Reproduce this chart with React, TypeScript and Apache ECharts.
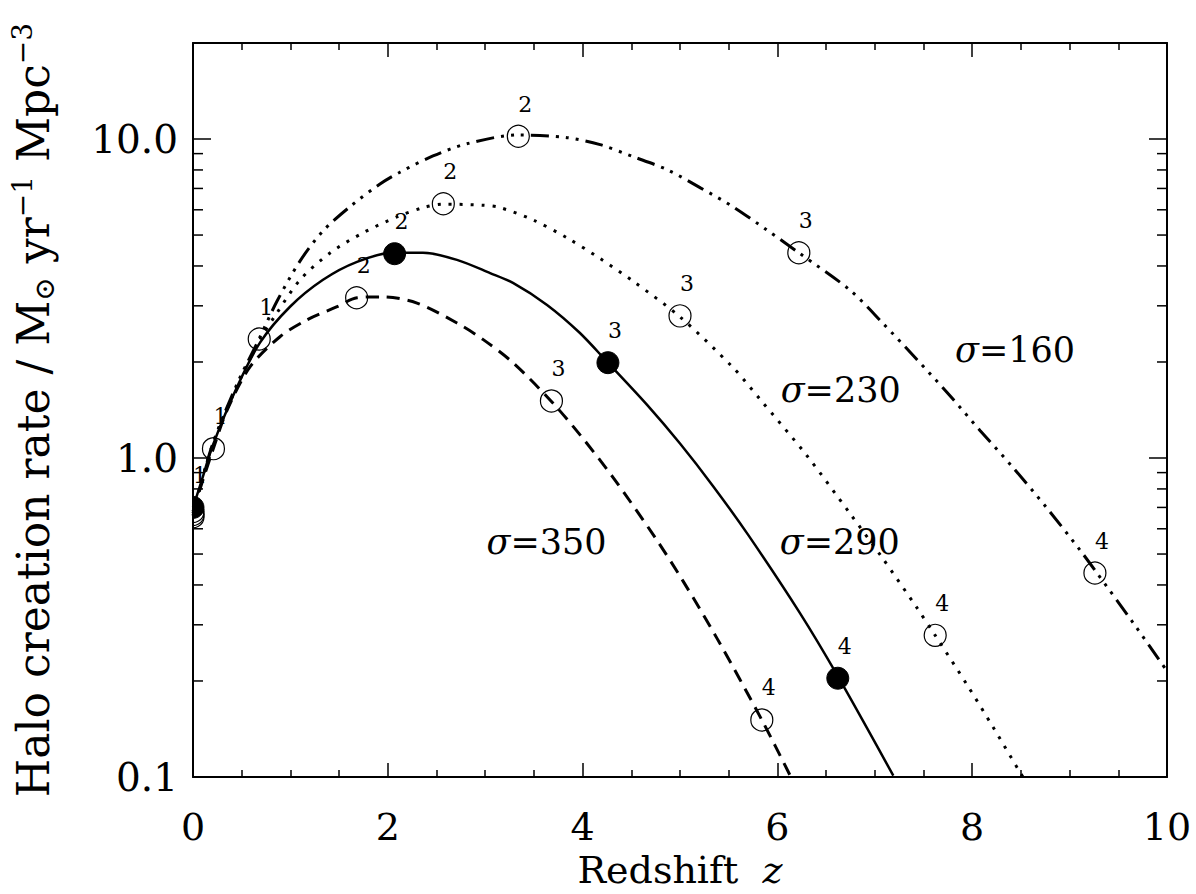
import React, { useEffect, useRef } from "react";
import * as echarts from "echarts";

const FONT = '"DejaVu Serif", serif';

// x axis (redshift) and y axis (log) tick data
const xMin = 0;
const xMax = 10;
const xInterval = 2;
const yMin = 0.1;
const yMax = 20;
const yMinorTicks = [0.2, 0.3, 0.4, 0.5, 0.6, 0.7, 0.8, 0.9, 2, 3, 4, 5, 6, 7, 8, 9];

// sigma = 290 (solid)
const solidZ = [0, 0.1, 0.195, 0.452, 0.688, 0.996, 1.335, 1.684, 2.053, 2.361, 2.71, 3.05, 3.285, 3.635, 3.97, 4.26, 4.66, 5.0, 5.34, 5.7, 6.23, 6.62, 7.19];
const solidV = [0.70, 0.871, 1.08, 1.67, 2.30, 2.98, 3.62, 4.12, 4.40, 4.40, 4.18, 3.80, 3.54, 3.02, 2.47, 1.99, 1.47, 1.11, 0.816, 0.574, 0.327, 0.207, 0.101];

// sigma = 350 (dashed)
const dashZ = [0, 0.1, 0.195, 0.349, 0.585, 0.893, 1.17, 1.48, 1.684, 1.95, 2.30, 2.71, 2.98, 3.285, 3.675, 3.97, 4.31, 4.74, 5.03, 5.38, 5.84, 6.16];
const dashV = [0.68, 0.85, 1.04, 1.41, 1.93, 2.40, 2.71, 2.98, 3.18, 3.20, 3.06, 2.65, 2.35, 1.99, 1.51, 1.186, 0.871, 0.566, 0.412, 0.272, 0.151, 0.097];

// sigma = 230 (dotted)
const dotZ = [0, 0.195, 0.483, 0.688, 0.862, 1.10, 1.41, 1.745, 2.094, 2.361, 2.567, 2.98, 3.15, 3.49, 3.84, 4.18, 4.52, 5.00, 5.545, 5.82, 6.30, 6.745, 7.08, 7.43, 7.62, 7.95, 8.21, 8.49, 8.54];
const dotV = [0.67, 1.09, 1.76, 2.35, 2.85, 3.62, 4.40, 5.08, 5.70, 6.09, 6.25, 6.20, 6.10, 5.58, 4.90, 4.22, 3.58, 2.77, 1.92, 1.53, 1.02, 0.67, 0.485, 0.340, 0.278, 0.194, 0.144, 0.1035, 0.098];

// sigma = 160 (dash-dot-dot-dot)
const ddZ = [0, 0.195, 0.45, 0.678, 0.862, 1.10, 1.335, 1.61, 1.92, 2.125, 2.464, 2.81, 3.34, 3.84, 4.18, 4.52, 4.87, 5.21, 5.545, 5.89, 6.22, 6.745, 7.08, 7.43, 7.77, 8.08, 8.42, 8.77, 9.11, 9.26, 9.65, 10.0];
const ddV = [0.66, 1.09, 1.70, 2.36, 3.10, 4.15, 5.15, 6.13, 7.23, 7.87, 8.85, 9.66, 10.3, 10.1, 9.60, 8.80, 8.01, 7.03, 6.13, 5.19, 4.40, 3.36, 2.65, 2.04, 1.57, 1.22, 0.933, 0.695, 0.513, 0.445, 0.305, 0.215];

// markers on each curve
const ddMarkZ = [0, 0.68, 3.34, 6.22, 9.26];
const ddMarkV = [0.655, 2.36, 10.2, 4.40, 0.436];
const ddMarkL = ["", "1", "2", "3", "4"];
const dotMarkZ = [0, 0.21, 2.57, 5.0, 7.62];
const dotMarkV = [0.665, 1.07, 6.27, 2.79, 0.278];
const dotMarkL = ["", "1", "2", "3", "4"];
const solidMarkZ = [0, 2.07, 4.26, 6.62];
const solidMarkV = [0.70, 4.37, 1.99, 0.204];
const solidMarkL = ["1", "2", "3", "4"];
const dashMarkZ = [0, 1.68, 3.68, 5.84];
const dashMarkV = [0.68, 3.18, 1.51, 0.151];
const dashMarkL = ["", "2", "3", "4"];

// sigma annotations
const sigmaZ = [8.44, 6.65, 6.64, 3.63];
const sigmaV = [2.18, 1.63, 0.545, 0.545];
const sigmaNum = ["160", "230", "290", "350"];

const zip = (a: number[], b: number[]) => a.map((v, i) => [v, b[i]]);

export default function App() {
  const ref = useRef<HTMLDivElement>(null);

  useEffect(() => {
    document.body.style.margin = "0";
    if (!ref.current) return;
    const chart = echarts.init(ref.current, null, { renderer: "svg" });

    type Mk = { z: number; v: number; l: string; filled: boolean };
    const markers: Mk[] = [];
    const addM = (zs: number[], vs: number[], ls: string[], filled: boolean) =>
      zs.forEach((z, i) => markers.push({ z, v: vs[i], l: ls[i], filled }));
    addM(ddMarkZ, ddMarkV, ddMarkL, false);
    addM(dotMarkZ, dotMarkV, dotMarkL, false);
    addM(dashMarkZ, dashMarkV, dashMarkL, false);
    addM(solidMarkZ, solidMarkV, solidMarkL, true);

    const axisLine = { show: true, onZero: false, lineStyle: { color: "#000", width: 2 } };
    const tickStyle = { color: "#000", width: 1.5 };

    const xBase = (pos: "bottom" | "top", idx: number) => ({
      type: "value",
      position: pos,
      min: xMin,
      max: xMax,
      interval: xInterval,
      axisLine,
      axisTick: { show: true, inside: true, length: 14, lineStyle: tickStyle },
      minorTick: { show: true, splitNumber: 4, length: 7, lineStyle: tickStyle },
      splitLine: { show: false },
      minorSplitLine: { show: false },
      axisLabel: {
        show: idx === 0,
        fontSize: 38,
        fontFamily: FONT,
        color: "#000",
        margin: 31,
      },
    });

    const yLabel = (v: number) => {
      const l = Math.log10(v);
      const r = Math.round(l);
      if (Math.abs(l - r) > 1e-6) return "";
      if (r === -1) return "0.1";
      if (r === 0) return "1.0";
      if (r === 1) return "10.0";
      return "";
    };

    const yBase = (pos: "left" | "right", idx: number) => ({
      type: "log",
      logBase: 10,
      position: pos,
      min: yMin,
      max: yMax,
      axisLine,
      axisTick: { show: true, inside: true, length: 18, lineStyle: tickStyle },
      minorTick: { show: false },
      splitLine: { show: false },
      axisLabel: {
        show: idx === 0,
        fontSize: 39,
        fontFamily: FONT,
        color: "#000",
        margin: 15,
        formatter: yLabel,
        showMaxLabel: false,
      },
    });

    const lineS = (data: number[][], lineStyle: any) => ({
      type: "line",
      data,
      showSymbol: false,
      symbol: "none",
      smooth: 0.3,
      clip: true,
      lineStyle: { color: "#000", ...lineStyle },
      z: 2,
    });

    const option: any = {
      animation: false,
      backgroundColor: "#fff",
      grid: { left: 193, top: 43, right: 29, bottom: 117, containLabel: false, outerBoundsMode: "none" },
      xAxis: [
        {
          ...xBase("bottom", 0),
          name: "Redshift\u00a0\u00a0{i|z}",
          nameLocation: "middle",
          nameGap: 74,
          nameTextStyle: {
            fontSize: 38,
            fontFamily: FONT,
            color: "#000",
            lineHeight: 38,
            rich: { i: { fontSize: 38, fontFamily: FONT, fontStyle: "italic", color: "#000", lineHeight: 38 } },
          },
        },
        xBase("top", 1),
      ],
      yAxis: [
        {
          ...yBase("left", 0),
          name: "Halo creation rate / M{sub|⊙} yr{sup|−1} Mpc{sup|−3}",
          nameLocation: "middle",
          nameGap: 135,
          nameTextStyle: {
            fontSize: 44,
            fontFamily: FONT,
            color: "#000",
            lineHeight: 50,
            rich: {
              sub: { fontSize: 28, fontFamily: FONT, color: "#000", verticalAlign: "bottom", lineHeight: 20 },
              sup: { fontSize: 28, fontFamily: FONT, color: "#000", verticalAlign: "top", lineHeight: 18 },
            },
          },
        },
        yBase("right", 1),
      ],
      series: [
        lineS(zip(solidZ, solidV), { width: 2.5, type: "solid" }),
        lineS(zip(dashZ, dashV), { width: 3, type: [13, 8] }),
        lineS(zip(dotZ, dotV), { width: 3, type: [3, 8] }),
        lineS(zip(ddZ, ddV), { width: 3, type: [18, 7, 3, 7, 3, 7, 3, 7] }),
        {
          type: "custom",
          data: yMinorTicks.map((v) => [xMin, v]),
          clip: false,
          z: 4,
          renderItem: (params: any, api: any) => {
            const v = api.value(1);
            const p = api.coord([xMin, v]);
            const q = api.coord([xMax, v]);
            return {
              type: "group",
              children: [
                { type: "line", shape: { x1: p[0], y1: p[1], x2: p[0] + 10, y2: p[1] }, style: { stroke: "#000", lineWidth: 1.5 } },
                { type: "line", shape: { x1: q[0] - 10, y1: q[1], x2: q[0], y2: q[1] }, style: { stroke: "#000", lineWidth: 1.5 } },
              ],
            };
          },
        },
        {
          type: "custom",
          data: markers.map((m) => [m.z, m.v]),
          clip: true,
          z: 5,
          renderItem: (params: any, api: any) => {
            const m = markers[params.dataIndex];
            const p = api.coord([api.value(0), api.value(1)]);
            const children: any[] = [
              {
                type: "circle",
                shape: { cx: p[0], cy: p[1], r: 11 },
                style: m.filled
                  ? { fill: "#000", stroke: "#000", lineWidth: 1 }
                  : { fill: "none", stroke: "#000", lineWidth: 1.2 },
              },
            ];
            if (m.l) {
              children.push({
                type: "text",
                x: p[0] + 7,
                y: p[1] - 32,
                style: { text: m.l, font: `22px ${FONT}`, fill: "#000", align: "center", verticalAlign: "middle" },
              });
            }
            return { type: "group", children };
          },
        },
        {
          type: "custom",
          data: sigmaZ.map((z, i) => [z, sigmaV[i]]),
          clip: false,
          z: 5,
          renderItem: (params: any, api: any) => {
            const p = api.coord([api.value(0), api.value(1)]);
            return {
              type: "text",
              x: p[0],
              y: p[1],
              style: {
                text: `{i|σ}=${sigmaNum[params.dataIndex]}`,
                font: `35px ${FONT}`,
                fill: "#000",
                align: "center",
                verticalAlign: "middle",
                rich: { i: { font: `italic 35px ${FONT}`, fill: "#000" } },
              },
            };
          },
        },
      ],
    };

    chart.setOption(option);
    return () => chart.dispose();
  }, []);

  return <div ref={ref} style={{ width: 1196, height: 894 }} />;
}
